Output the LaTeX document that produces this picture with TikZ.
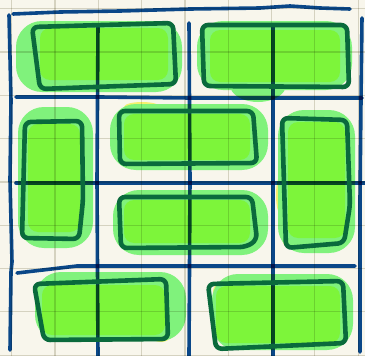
\documentclass[tikz,border=0pt]{standalone}
\definecolor{bg}{HTML}{F8F6EC}
\definecolor{gridc}{HTML}{DCDAD0}
\definecolor{bluel}{HTML}{0B4A94}
\definecolor{outl}{HTML}{0A6A3C}
\definecolor{halo}{HTML}{80F27C}
\definecolor{bright}{HTML}{7DF53A}
\definecolor{yel}{HTML}{F4F06E}
\begin{document}
\begin{tikzpicture}[x=1pt,y=-1pt,
  bluestroke/.style={draw=bluel,line width=3.6pt,line cap=round,line join=round},
  gridstroke/.style={draw=gridc,line width=1.2pt},
  outline/.style={draw=outl,line width=4.6pt,line cap=round,line join=round,rounded corners=6pt},
  halofill/.style={fill=halo,rounded corners=26pt},
  brightfill/.style={fill=bright,rounded corners=10pt},
  yelfill/.style={fill=yel}]
\useasboundingbox (0,0) rectangle (365,356);
\fill[bg] (0,0) rectangle (365,356);

% yellow patches (under greens)
\fill[yelfill] (116,26) ellipse (9pt and 4pt);
\fill[yelfill] (145,84) ellipse (14pt and 5pt);
\fill[yelfill] (88,185) ellipse (5pt and 16pt);
\fill[yelfill] (142,107) ellipse (18pt and 5pt);
\fill[yelfill] (182,166) ellipse (12pt and 4pt);
\fill[yelfill] (280,195) ellipse (4pt and 18pt);
\fill[yelfill] (286,236) ellipse (4pt and 10pt);
\fill[yelfill] (190,246) ellipse (24pt and 4pt);
\fill[yelfill] (161,338) ellipse (8pt and 4pt);
\fill[yelfill] (220,291) ellipse (7pt and 7pt);
\fill[yelfill] (308,344) ellipse (14pt and 4pt);

% halos
\fill[halofill] (16,21) rectangle (182,92);
\fill[halo] (58,57) ellipse (42pt and 34pt);
\fill[halofill] (197,21) rectangle (352,90);
\fill[halo] (258,85) ellipse (28pt and 17pt);
\fill[halofill] (18,107) rectangle (93,248);
\fill[halofill] (110,104) rectangle (268,170);
\fill[halofill] (278,110) rectangle (355,253);
\fill[halofill] (113,190) rectangle (268,255);
\fill[halofill] (35,272) rectangle (186,341);
\fill[halofill] (212,274) rectangle (353,350);

% bright fills
\fill[brightfill] (40,28) rectangle (168,80);
\fill[brightfill] (210,30) rectangle (340,82);
\fill[brightfill] (28,124) rectangle (80,232);
\fill[brightfill] (124,114) rectangle (250,160);
\fill[brightfill] (288,122) rectangle (345,238);
\fill[brightfill] (124,200) rectangle (250,243);
\fill[brightfill] (42,285) rectangle (165,335);
\fill[brightfill] (216,286) rectangle (340,343);

% faint grid and blue lines (multiplied over the greens)
\begin{scope}[blend mode=multiply]
\foreach \k in {0,...,8} {
  \draw[gridstroke] ({11.7+43.3*\k},0) -- ({11.7+43.3*\k},356);
  \draw[gridstroke] (0,{8.7+43.3*\k}) -- (365,{8.7+43.3*\k});
}
\draw[bluestroke] (13,14) -- (60,12) -- (120,11) -- (190,9) -- (260,8) -- (290,6) -- (320,8) -- (350,9);
\draw[bluestroke] (9,15) -- (11,100) -- (10,180) -- (12,262) -- (11,272) -- (10,350);
\draw[bluestroke] (362,18) -- (361,100) -- (360,200) -- (360,352);
\draw[bluestroke] (16,97) -- (100,97) -- (190,98) -- (362,98);
\draw[bluestroke] (16,183) -- (365,183);
\draw[bluestroke] (17,273) -- (77,266) -- (190,266) -- (355,266);
\draw[bluestroke] (98,25) -- (97,180) -- (98,356);
\draw[bluestroke] (189,23) -- (190,180) -- (189,356);
\draw[bluestroke] (273,25) -- (273,180) -- (273,356);
\end{scope}

% domino outlines
\draw[outline] (32,27) -- (173,23) -- (176,84) -- (40,89) -- cycle;
\draw[outline] (202,25) -- (347,25) -- (349,87) -- (204,86) -- cycle;
\draw[outline] (25,122) -- (82,121) -- (83,200) -- (79,239) -- (22,238) -- cycle;
\draw[outline] (119,111) -- (253,111) -- (257,163) -- (120,164) -- cycle;
\draw[outline] (282,118) -- (347,120) -- (350,205) -- (344,243) -- (286,248) -- cycle;
\draw[outline] (119,197) -- (252,197) -- (257,240) -- (246,247) -- (121,248) -- cycle;
\draw[outline] (34,284) -- (166,279) -- (168,339) -- (44,340) -- cycle;
\draw[outline] (208,284) -- (343,281) -- (346,343) -- (216,349) -- cycle;
\end{tikzpicture}
\end{document}
